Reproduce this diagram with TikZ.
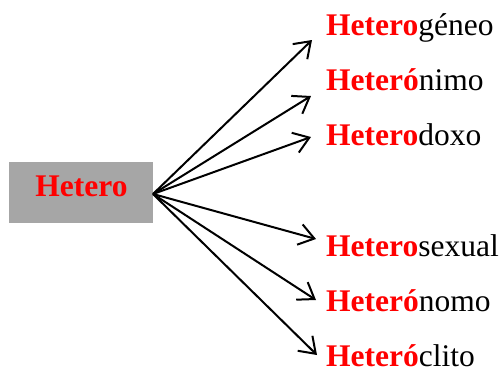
\documentclass[tikz,border=0pt]{standalone}
\usepackage{fontspec}
\setmainfont{Liberation Serif}
\usetikzlibrary{arrows.meta}
\definecolor{boxgray}{RGB}{166,166,166}
\begin{document}
\begin{tikzpicture}[x=1bp,y=-1bp,
  word/.style={inner sep=0pt,anchor=base west,font=\fontsize{31.5bp}{36bp}\selectfont},
  rootbox/.style={fill=boxgray,minimum width=143.7bp,minimum height=61.3bp,inner sep=0pt},
  branch/.style={line width=2bp,-{Straight Barb[length=15bp,width=21bp,line width=2bp]}}]
\useasboundingbox (0,0) rectangle (504,368);
\newcommand{\pre}[1]{{\color{red}\bfseries #1}}
% root box
\node[rootbox] (root) at (80.8,192.7) {};
\node[word,anchor=base] (rootlabel) at (81.5,196.7) {\pre{Hetero}};
\coordinate (hub) at (153,194);
% derived words
\node[word] (w1) at (326,35) {\pre{Hetero}géneo};
\node[word] (w2) at (326,90) {\pre{Heteró}nimo};
\node[word] (w3) at (326,145) {\pre{Hetero}doxo};
\node[word] (w4) at (326,256.7) {\pre{Hetero}sexual};
\node[word] (w5) at (326,311.7) {\pre{Heteró}nomo};
\node[word,text depth=0pt] (w6) at (326,366.7) {\pre{Heteró}clito};
% arrow tips
\coordinate (t1) at (312,40);
\coordinate (t2) at (311,96);
\coordinate (t3) at (311,137);
\coordinate (t4) at (316,239);
\coordinate (t5) at (316,300);
\coordinate (t6) at (317,355);
\foreach \i in {1,...,6} \draw[branch] (hub) -- (t\i);
\end{tikzpicture}
\end{document}
